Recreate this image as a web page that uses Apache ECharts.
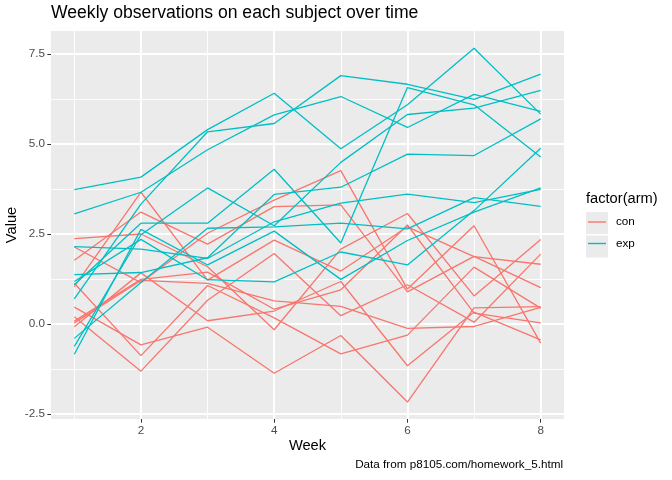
<!DOCTYPE html>
<html lang="en">
<head>
    <meta charset="UTF-8">
    <title>Weekly observations on each subject over time</title>
    <style>
        html, body {
            margin: 0;
            padding: 0;
            background: #fff;
        }
        #chart {
            width: 672px;
            height: 480px;
        }
    </style>
    <script src="https://cdn.jsdelivr.net/npm/echarts@6.0.0/dist/echarts.min.js"></script>
</head>
<body>
    <div id="chart"></div>

    <script>
        // weeks on the x axis
        const weeks = [1, 2, 3, 4, 5, 6, 7, 8];

        // control arm, one array per subject
        const con_01 = [0.20, -1.31, 0.66, 1.96, 0.23, 1.09, 0.05, 1.94];
        const con_02 = [1.13, -0.88, 1.07, 0.17, -0.83, -0.31, 1.58, 0.44];
        const con_03 = [1.77, 3.11, 2.22, 3.26, 3.31, 0.89, 1.88, 1.01];
        const con_04 = [1.04, 3.66, 1.22, 2.33, 1.47, 2.70, 1.87, 1.66];
        const con_05 = [0.47, -0.58, -0.09, -1.37, -0.32, -2.17, 0.45, 0.48];
        const con_06 = [2.37, 2.50, 1.59, -0.16, 2.08, 3.07, 0.78, 2.35];
        const con_07 = [0.03, 1.21, 1.13, 0.64, 0.49, -0.12, -0.07, 0.46];
        const con_08 = [-0.08, 1.42, 0.09, 0.36, 1.18, -1.16, 0.33, -0.44];
        const con_09 = [0.08, 1.24, 1.44, 0.41, 0.95, 2.75, 0.30, 0.03];
        const con_10 = [2.14, 1.15, 2.52, 3.44, 4.26, 0.97, 2.73, -0.53];

        // experimental arm
        const exp_01 = [-0.84, 2.63, 1.64, 2.58, 1.24, 2.32, 3.11, 3.78];
        const exp_02 = [2.15, 2.08, 1.82, 2.84, 3.36, 3.61, 3.37, 3.74];
        const exp_03 = [3.06, 3.66, 4.84, 5.81, 6.32, 5.46, 6.38, 5.91];
        const exp_04 = [-0.62, 2.48, 3.78, 2.73, 4.49, 5.82, 6.00, 6.49];
        const exp_05 = [0.70, 3.33, 5.34, 5.57, 6.90, 6.66, 6.24, 6.94];
        const exp_06 = [3.73, 4.08, 5.40, 6.41, 4.87, 6.09, 7.66, 5.83];
        const exp_07 = [1.18, 2.35, 1.23, 1.17, 2.00, 1.64, 3.15, 4.88];
        const exp_08 = [1.37, 1.43, 1.84, 3.60, 3.80, 4.72, 4.68, 5.70];
        const exp_09 = [-0.40, 1.15, 2.66, 2.70, 2.80, 2.64, 3.51, 3.27];
        const exp_10 = [1.09, 2.80, 2.80, 4.30, 2.25, 6.57, 6.09, 4.64];

        const conSubjects = [con_01, con_02, con_03, con_04, con_05, con_06, con_07, con_08, con_09, con_10];
        const expSubjects = [exp_01, exp_02, exp_03, exp_04, exp_05, exp_06, exp_07, exp_08, exp_09, exp_10];

        // tick labels
        const xTicks = [2, 4, 6, 8];
        const xMinor = [1, 3, 5, 7];
        const yTicks = [-2.5, 0, 2.5, 5, 7.5];
        const yMinor = [-1.25, 1.25, 3.75, 6.25];

        const FONT = "'Liberation Sans', Arial, Helvetica, sans-serif";
        const colors = { con: '#F8766D', exp: '#00BFC4' };

        function makeSeries(name, values) {
            return {
                name: name,
                type: 'line',
                xAxisIndex: 0,
                yAxisIndex: 0,
                data: weeks.map((w, i) => [w, values[i]]),
                showSymbol: false,
                symbol: 'none',
                silent: true,
                color: colors[name],
                lineStyle: { width: 1.3, color: colors[name] }
            };
        }

        const series = [];
        conSubjects.forEach(v => series.push(makeSeries('con', v)));
        expSubjects.forEach(v => series.push(makeSeries('exp', v)));

        const chart = echarts.init(document.getElementById('chart'), null, { renderer: 'canvas' });

        const option = {
            animation: false,
            backgroundColor: '#fff',
            textStyle: { fontFamily: FONT },
            title: [
                {
                    text: 'Weekly observations on each subject over time',
                    left: 51,
                    top: 4,
                    padding: 0,
                    textStyle: { fontFamily: FONT, fontSize: 17.6, fontWeight: 'normal', color: '#000' }
                },
                {
                    text: 'Data from p8105.com/homework_5.html',
                    right: 109,
                    top: 459,
                    padding: 0,
                    textStyle: { fontFamily: FONT, fontSize: 11.7, fontWeight: 'normal', color: '#000' }
                },
                {
                    text: 'factor(arm)',
                    left: 586,
                    top: 191,
                    padding: 0,
                    textStyle: { fontFamily: FONT, fontSize: 14.67, fontWeight: 'normal', color: '#000' }
                }
            ],
            legend: {
                data: ['con', 'exp'],
                orient: 'vertical',
                left: 588,
                top: 216,
                padding: 0,
                itemWidth: 18,
                itemHeight: 1.4,
                itemGap: 9.5,
                icon: 'rect',
                selectedMode: false,
                textStyle: { fontFamily: FONT, fontSize: 11.7, color: '#000', padding: [0, 0, 0, 5] }
            },
            graphic: [
                { type: 'rect', left: 586, top: 212, z: -1, shape: { width: 22, height: 22 }, style: { fill: '#EBEBEB' } },
                { type: 'rect', left: 586, top: 235.5, z: -1, shape: { width: 22, height: 22 }, style: { fill: '#EBEBEB' } }
            ],
            grid: {
                left: 51,
                right: 108,
                top: 31,
                bottom: 61,
                show: true,
                backgroundColor: '#EBEBEB',
                borderWidth: 0,
                containLabel: false,
                outerBoundsMode: 'none'
            },
            xAxis: [
                {
                    type: 'value',
                    min: 0.65,
                    max: 8.35,
                    name: 'Week',
                    nameLocation: 'middle',
                    nameGap: 19,
                    nameMoveOverlap: false,
                    nameTextStyle: { fontFamily: FONT, fontSize: 14.67, color: '#000' },
                    axisLine: { show: false, onZero: false },
                    axisTick: { show: true, length: 3.7, customValues: xTicks, lineStyle: { color: '#333333', width: 1 } },
                    axisLabel: { customValues: xTicks, margin: 6, fontSize: 11.7, color: '#4D4D4D', fontFamily: FONT },
                    splitLine: { show: true, lineStyle: { color: '#fff', width: 1.9 } }
                },
                {
                    type: 'value',
                    min: 0.65,
                    max: 8.35,
                    position: 'bottom',
                    axisLine: { show: false, onZero: false },
                    axisTick: { show: false, customValues: xMinor },
                    axisLabel: { show: false, customValues: xMinor },
                    splitLine: { show: true, lineStyle: { color: '#fff', width: 0.9 } }
                }
            ],
            yAxis: [
                {
                    type: 'value',
                    min: -2.64,
                    max: 8.14,
                    name: 'Value',
                    nameLocation: 'middle',
                    nameRotate: 90,
                    nameGap: 32,
                    nameMoveOverlap: false,
                    nameTextStyle: { fontFamily: FONT, fontSize: 14.67, color: '#000' },
                    axisLine: { show: false, onZero: false },
                    axisTick: { show: true, length: 3.7, customValues: yTicks, lineStyle: { color: '#333333', width: 1 } },
                    axisLabel: {
                        customValues: yTicks,
                        margin: 6,
                        fontSize: 11.7,
                        color: '#4D4D4D',
                        fontFamily: FONT,
                        formatter: v => v.toFixed(1)
                    },
                    splitLine: { show: true, lineStyle: { color: '#fff', width: 1.9 } }
                },
                {
                    type: 'value',
                    min: -2.64,
                    max: 8.14,
                    position: 'left',
                    axisLine: { show: false, onZero: false },
                    axisTick: { show: false, customValues: yMinor },
                    axisLabel: { show: false, customValues: yMinor },
                    splitLine: { show: true, lineStyle: { color: '#fff', width: 0.9 } }
                }
            ],
            series: series
        };

        chart.setOption(option);
    </script>
</body>
</html>
